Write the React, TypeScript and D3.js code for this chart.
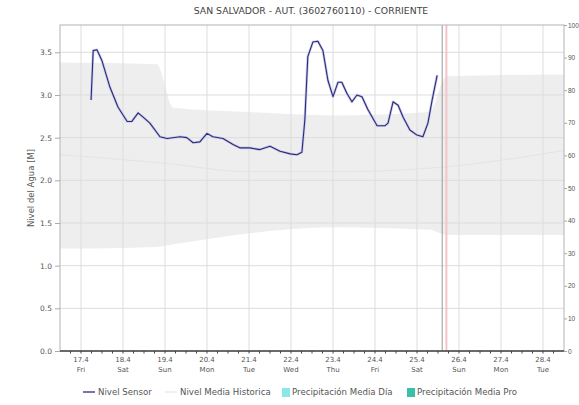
import { useEffect, useRef } from 'react';
import * as d3 from 'd3';

const TITLE = 'SAN SALVADOR - AUT. (3602760110) - CORRIENTE';
const Y_LABEL = 'Nivel del Agua [M]';

// day ticks (day of April)
const tickDays = [17, 18, 19, 20, 21, 22, 23, 24, 25, 26, 27, 28];
const tickLabels = ['17.4', '18.4', '19.4', '20.4', '21.4', '22.4', '23.4', '24.4', '25.4', '26.4', '27.4', '28.4'];
const weekdays = ['Fri', 'Sat', 'Sun', 'Mon', 'Tue', 'Wed', 'Thu', 'Fri', 'Sat', 'Sun', 'Mon', 'Tue'];

const leftTicks = [0, 0.5, 1, 1.5, 2, 2.5, 3, 3.5];
const rightTicks = [0, 10, 20, 30, 40, 50, 60, 70, 80, 90, 100];

// Nivel Sensor (time in days of April, value in m)
const sensorT = [
  17.24, 17.29, 17.38, 17.5, 17.69, 17.88, 18.1, 18.21, 18.36, 18.48, 18.64, 18.88, 19.05, 19.36,
  19.52, 19.67, 19.83, 20.0, 20.14, 20.38, 20.62, 20.79, 21.02, 21.26, 21.5, 21.74, 21.98, 22.14,
  22.26, 22.33, 22.4, 22.52, 22.64, 22.76, 22.88, 23.0, 23.12, 23.21, 23.33, 23.45, 23.57, 23.69,
  23.83, 24.05, 24.24, 24.31, 24.43, 24.55, 24.67, 24.83, 25.0, 25.14, 25.26, 25.36, 25.48,
];
const sensorV = [
  2.94, 3.52, 3.53, 3.4, 3.09, 2.86, 2.69, 2.69, 2.79, 2.74, 2.67, 2.51, 2.49, 2.51,
  2.5, 2.44, 2.45, 2.55, 2.51, 2.49, 2.42, 2.38, 2.38, 2.36, 2.4, 2.34, 2.31, 2.3,
  2.33, 2.71, 3.45, 3.62, 3.63, 3.52, 3.17, 2.98, 3.15, 3.15, 3.02, 2.92, 3.0, 2.98,
  2.83, 2.64, 2.64, 2.67, 2.92, 2.88, 2.74, 2.59, 2.53, 2.51, 2.67, 2.94, 3.23,
];

// historic band (max / min) and mean
const bandT = [16.5, 18.8, 19.2, 21, 23, 25.3, 25.7, 28.5];
const bandHi = [3.38, 3.36, 2.85, 2.8, 2.76, 2.8, 3.22, 3.24];
const bandLo = [1.2, 1.22, 1.25, 1.38, 1.45, 1.42, 1.36, 1.36];
const meanT = [16.5, 19, 21, 23, 25.5, 28.5];
const meanV = [2.3, 2.2, 2.1, 2.1, 2.15, 2.35];

const NOW_DAY = 25.6;
const FORECAST_DAY = 25.7;

const legendItems = [
  { label: 'Nivel Sensor', kind: 'line', color: '#2b2b7a' },
  { label: 'Nivel Media Historica', kind: 'line', color: '#e8e8e8' },
  { label: 'Precipitación Media Día', kind: 'box', color: '#8ae8e8' },
  { label: 'Precipitación Media Pro', kind: 'box', color: '#3bbfa8' },
];

export default function App() {
  const ref = useRef<SVGSVGElement>(null);

  useEffect(() => {
    document.body.style.margin = '0';
    if (!ref.current) return;
    const W = 579;
    const H = 405;
    const m = { left: 60, right: 15, top: 25, bottom: 54 };
    const font = 'DejaVu Sans, Verdana, sans-serif';
    const txt = '#555';

    const svg = d3.select(ref.current);
    svg.selectAll('*').remove();

    const x = d3.scaleLinear().domain([16.5, 28.5]).range([m.left, W - m.right]);
    const y = d3.scaleLinear().domain([0, 3.82]).range([H - m.bottom, m.top]);
    const yR = d3.scaleLinear().domain([0, 100]).range([H - m.bottom, m.top]);

    svg.append('rect').attr('width', W).attr('height', H).attr('fill', '#fff');

    // title
    svg.append('text')
      .attr('x', 311).attr('y', 14)
      .attr('text-anchor', 'middle')
      .attr('font-family', font).attr('font-size', 9.3).attr('fill', '#444')
      .text(TITLE);

    // band
    const band = bandT.map((t, i) => ({ t, hi: bandHi[i], lo: bandLo[i] }));
    svg.append('path')
      .datum(band)
      .attr('fill', '#eeeeee')
      .attr('d', d3.area<typeof band[number]>()
        .x((d) => x(d.t)).y0((d) => y(d.lo)).y1((d) => y(d.hi))
        .curve(d3.curveMonotoneX));

    // grid
    const g = svg.append('g');
    g.selectAll('.hg').data(leftTicks.slice(1)).enter().append('line')
      .attr('x1', m.left).attr('x2', W - m.right)
      .attr('y1', (d) => y(d)).attr('y2', (d) => y(d))
      .attr('stroke', '#dddddd').attr('stroke-width', 1);
    g.selectAll('.vg').data(tickDays).enter().append('line')
      .attr('y1', m.top).attr('y2', H - m.bottom)
      .attr('x1', (d) => x(d)).attr('x2', (d) => x(d))
      .attr('stroke', '#dddddd').attr('stroke-width', 1);

    // media historica
    const mean = meanT.map((t, i) => ({ t, v: meanV[i] }));
    svg.append('path')
      .datum(mean)
      .attr('fill', 'none').attr('stroke', '#e4e4e4').attr('stroke-width', 1)
      .attr('d', d3.line<typeof mean[number]>().x((d) => x(d.t)).y((d) => y(d.v)).curve(d3.curveMonotoneX));

    // now / forecast markers
    svg.append('line')
      .attr('x1', x(NOW_DAY)).attr('x2', x(NOW_DAY))
      .attr('y1', m.top).attr('y2', H - m.bottom)
      .attr('stroke', '#999').attr('stroke-width', 1);
    svg.append('line')
      .attr('x1', x(FORECAST_DAY)).attr('x2', x(FORECAST_DAY))
      .attr('y1', m.top).attr('y2', H - m.bottom)
      .attr('stroke', '#f4c4ca').attr('stroke-width', 2);

    // sensor line
    const sensor = sensorT.map((t, i) => ({ t, v: sensorV[i] }));
    const sensorLine = d3.line<typeof sensor[number]>().x((d) => x(d.t)).y((d) => y(d.v));
    svg.append('path')
      .datum(sensor)
      .attr('fill', 'none').attr('stroke', '#c9c9ea').attr('stroke-width', 2.6)
      .attr('stroke-linejoin', 'round')
      .attr('d', sensorLine);
    svg.append('path')
      .datum(sensor)
      .attr('fill', 'none').attr('stroke', '#2a2a78').attr('stroke-width', 1.1)
      .attr('stroke-linejoin', 'round')
      .attr('d', sensorLine);

    // frame
    svg.append('rect')
      .attr('x', m.left).attr('y', m.top)
      .attr('width', W - m.left - m.right).attr('height', H - m.top - m.bottom)
      .attr('fill', 'none').attr('stroke', '#b4b4b4');

    // left axis
    const left = svg.append('g').attr('transform', `translate(${m.left},0)`)
      .call(d3.axisLeft(y).tickValues(leftTicks).tickFormat(d3.format('.1f')).tickSize(5).tickPadding(3));
    left.select('.domain').remove();
    left.selectAll('line').attr('stroke', '#aaa');
    left.selectAll('text').attr('font-family', font).attr('font-size', 7.5).attr('fill', txt);

    // right axis
    const right = svg.append('g').attr('transform', `translate(${W - m.right},0)`)
      .call(d3.axisRight(yR).tickValues(rightTicks).tickFormat(d3.format('d')).tickSize(3).tickPadding(1));
    right.select('.domain').remove();
    right.selectAll('line').attr('stroke', '#aaa');
    right.selectAll('text').attr('font-family', 'Liberation Sans, Arial, sans-serif').attr('font-size', 6.5).attr('fill', txt);

    // bottom axis
    const minor = d3.range(16.75, 28.5, 0.25);
    const bottom = svg.append('g').attr('transform', `translate(0,${H - m.bottom})`);
    bottom.append('line')
      .attr('x1', m.left).attr('x2', W - m.right)
      .attr('stroke', '#444').attr('stroke-width', 1.5);
    bottom.selectAll('.mt').data(minor).enter().append('line')
      .attr('x1', (d) => x(d)).attr('x2', (d) => x(d))
      .attr('y1', 0).attr('y2', 2.5).attr('stroke', '#444');
    const lbl = bottom.selectAll('.xl').data(tickDays).enter().append('text')
      .attr('text-anchor', 'middle')
      .attr('font-family', font).attr('font-size', 7).attr('fill', txt);
    lbl.append('tspan').attr('x', (d) => x(d)).attr('y', 11).text((_, i) => tickLabels[i]);
    lbl.append('tspan').attr('x', (d) => x(d)).attr('y', 21).text((_, i) => weekdays[i]);

    // y label
    svg.append('text')
      .attr('transform', `translate(34,${(m.top + H - m.bottom) / 2}) rotate(-90)`)
      .attr('text-anchor', 'middle')
      .attr('font-family', font).attr('font-size', 8.5).attr('fill', txt)
      .text(Y_LABEL);

    // legend
    const legX = [83, 165, 282, 407];
    const leg = svg.append('g').attr('transform', 'translate(0,392)');
    legendItems.forEach((it, i) => {
      const lx = legX[i];
      if (it.kind === 'line') {
        leg.append('line').attr('x1', lx).attr('x2', lx + 12).attr('y1', 0).attr('y2', 0)
          .attr('stroke', it.color).attr('stroke-width', 1.3);
        leg.append('text').attr('x', lx + 15).attr('y', 3)
          .attr('font-family', font).attr('font-size', 8.6).attr('fill', txt).text(it.label);
      } else {
        leg.append('rect').attr('x', lx).attr('y', -4).attr('width', 8).attr('height', 9)
          .attr('fill', it.color);
        leg.append('text').attr('x', lx + 10).attr('y', 3)
          .attr('font-family', font).attr('font-size', 8.6).attr('fill', txt).text(it.label);
      }
    });
  }, []);

  return <svg ref={ref} width={579} height={405} style={{ display: 'block' }} />;
}
